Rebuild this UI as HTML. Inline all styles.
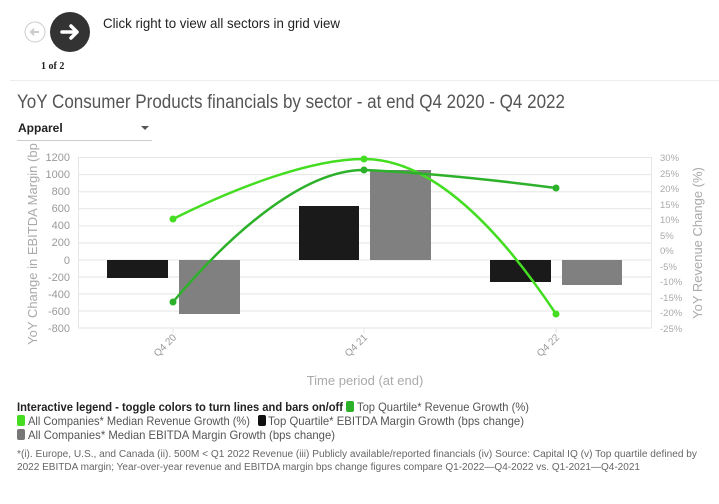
<!DOCTYPE html>
<html><head><meta charset="utf-8"><style>
html,body{margin:0;padding:0;background:#fff;}
svg{display:block;font-family:"Liberation Sans",sans-serif;}
</style></head><body>
<svg width="719" height="504" viewBox="0 0 719 504" xmlns="http://www.w3.org/2000/svg">
<rect width="719" height="504" fill="#fff"/>
<circle cx="35" cy="32" r="10" fill="#fff" stroke="#ccc" stroke-width="1"/>
<path d="M39,32 H31 M34,29 L31,32 L34,35" stroke="#ccc" stroke-width="2" fill="none"/>
<circle cx="70" cy="32" r="20" fill="#333"/>
<path d="M62,32 H77 M71,26 L77,32 L71,38" stroke="#fff" stroke-width="3.5" fill="none" stroke-linecap="round" stroke-linejoin="round"/>
<text x="103" y="28" font-size="14" fill="#222" textLength="237" lengthAdjust="spacingAndGlyphs">Click right to view all sectors in grid view</text>
<text x="41" y="69" font-size="10" font-weight="bold" fill="#222" font-family="Liberation Serif,serif">1 of 2</text>
<line x1="10" y1="80.5" x2="719" y2="80.5" stroke="#eee"/>
<text x="17" y="108" font-size="19" fill="#555" textLength="548" lengthAdjust="spacingAndGlyphs">YoY Consumer Products financials by sector - at end Q4 2020 - Q4 2022</text>
<text x="18" y="132" font-size="12" font-weight="bold" fill="#222">Apparel</text>
<path d="M141,126 L149,126 L145,130 Z" fill="#555"/>
<line x1="17" y1="140.5" x2="152" y2="140.5" stroke="#ccc"/>
<g stroke="#e6e6e6" stroke-width="1">
<line x1="78" x2="652" y1="157.5" y2="157.5"/>
<line x1="78" x2="652" y1="174.6" y2="174.6"/>
<line x1="78" x2="652" y1="191.7" y2="191.7"/>
<line x1="78" x2="652" y1="208.8" y2="208.8"/>
<line x1="78" x2="652" y1="225.9" y2="225.9"/>
<line x1="78" x2="652" y1="243" y2="243"/>
<line x1="78" x2="652" y1="260" y2="260"/>
<line x1="78" x2="652" y1="277" y2="277"/>
<line x1="78" x2="652" y1="294" y2="294"/>
<line x1="78" x2="652" y1="311" y2="311"/>
<line x1="78" x2="652" y1="328" y2="328"/>
<line x1="78.5" x2="78.5" y1="157" y2="328"/>
<line x1="651.5" x2="651.5" y1="157" y2="328"/>
<line x1="173" x2="173" y1="328" y2="333"/>
<line x1="364" x2="364" y1="328" y2="333"/>
<line x1="556" x2="556" y1="328" y2="333"/>
</g>
<g font-size="11" fill="#999" text-anchor="end">
<text x="70" y="161">1200</text><text x="70" y="178">1000</text><text x="70" y="195">800</text>
<text x="70" y="212">600</text><text x="70" y="229">400</text><text x="70" y="246">200</text>
<text x="70" y="264">0</text><text x="70" y="281">-200</text><text x="70" y="298">-400</text>
<text x="70" y="315">-600</text><text x="70" y="332">-800</text>
</g>
<g font-size="9.5" fill="#aaa">
<text x="660" y="161">30%</text><text x="660" y="177">25%</text><text x="660" y="192">20%</text>
<text x="660" y="208">15%</text><text x="660" y="223">10%</text><text x="660" y="239">5%</text>
<text x="660" y="254">0%</text><text x="660" y="270">-5%</text><text x="660" y="285">-10%</text>
<text x="660" y="301">-15%</text><text x="660" y="316">-20%</text><text x="660" y="332">-25%</text>
</g>
<text transform="translate(37,244) rotate(-90)" font-size="13" fill="#aaa" text-anchor="middle">YoY Change in EBITDA Margin (bp</text>
<text transform="translate(702,243) rotate(-90)" font-size="13" fill="#aaa" text-anchor="middle">YoY Revenue Change (%)</text>
<g font-size="10" fill="#999" text-anchor="end">
<text transform="translate(177,338) rotate(-45)">Q4 20</text>
<text transform="translate(368,338) rotate(-45)">Q4 21</text>
<text transform="translate(560,338) rotate(-45)">Q4 22</text>
</g>
<text x="365" y="385" font-size="13" fill="#aaa" text-anchor="middle">Time period (at end)</text>
<g>
<rect x="107" y="260" width="61" height="18" fill="#1a1a1a"/>
<rect x="179" y="260" width="61" height="54" fill="#808080"/>
<rect x="299" y="206" width="60" height="54" fill="#1a1a1a"/>
<rect x="370" y="170" width="61" height="90" fill="#808080"/>
<rect x="490" y="260" width="61" height="22" fill="#1a1a1a"/>
<rect x="562" y="260" width="60" height="25" fill="#808080"/>
</g>
<path d="M173,219 C235,188 310,159 364,159 C425,159 490,215 556,314" fill="none" stroke="#44dd22" stroke-width="2.5"/>
<path d="M173,302 C225,240 300,170 364,170 C430,173 495,180 556,188" fill="none" stroke="#2eb12a" stroke-width="2.5"/>
<g fill="#44dd22"><circle cx="173" cy="219" r="3.5"/><circle cx="364" cy="159" r="3.5"/><circle cx="556" cy="314" r="3.5"/></g>
<g fill="#2eb12a"><circle cx="173" cy="302" r="3.5"/><circle cx="364" cy="170" r="3.5"/><circle cx="556" cy="188" r="3.5"/></g>
<text x="17" y="411" font-size="12" font-weight="bold" fill="#222" textLength="326" lengthAdjust="spacingAndGlyphs">Interactive legend - toggle colors to turn lines and bars on/off</text>
<rect x="346" y="401" width="8" height="11" rx="2" fill="#2eb12a"/>
<text x="357" y="411" font-size="12" fill="#555" textLength="172" lengthAdjust="spacingAndGlyphs">Top Quartile* Revenue Growth (%)</text>
<rect x="17" y="415" width="8" height="11" rx="2" fill="#44dd22"/>
<text x="28" y="425" font-size="12" fill="#555" textLength="222" lengthAdjust="spacingAndGlyphs">All Companies* Median Revenue Growth (%)</text>
<rect x="258" y="415" width="8" height="11" rx="2" fill="#111"/>
<text x="268" y="425" font-size="12" fill="#555" textLength="256" lengthAdjust="spacingAndGlyphs">Top Quartile* EBITDA Margin Growth (bps change)</text>
<rect x="17" y="429" width="8" height="11" rx="2" fill="#777"/>
<text x="28" y="439" font-size="12" fill="#555" textLength="307" lengthAdjust="spacingAndGlyphs">All Companies* Median EBITDA Margin Growth (bps change)</text>
<text x="17" y="457" font-size="10" fill="#666" textLength="680" lengthAdjust="spacingAndGlyphs">*(i). Europe, U.S., and Canada (ii). 500M &lt; Q1 2022 Revenue (iii) Publicly available/reported financials (iv) Source: Capital IQ (v) Top quartile defined by</text>
<text x="17" y="470" font-size="10" fill="#666" textLength="623" lengthAdjust="spacingAndGlyphs">2022 EBITDA margin; Year-over-year revenue and EBITDA margin bps change figures compare Q1-2022—Q4-2022 vs. Q1-2021—Q4-2021</text>
</svg>
</body></html>
